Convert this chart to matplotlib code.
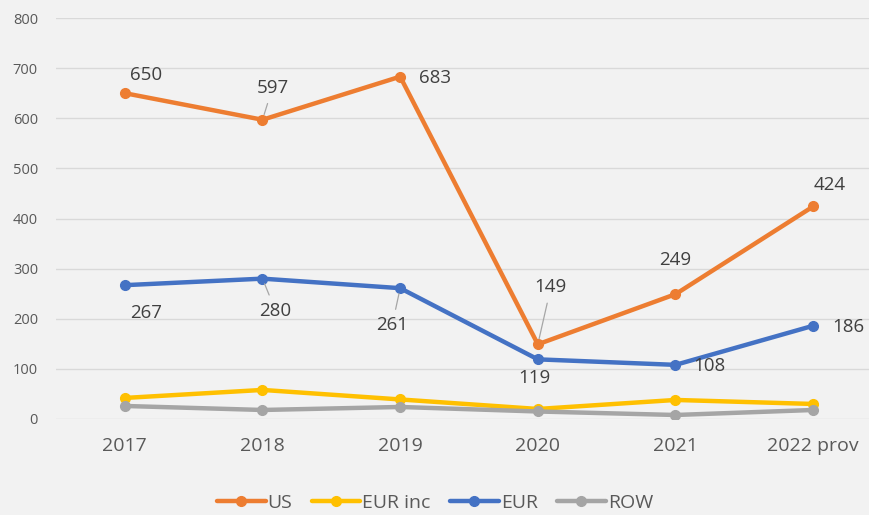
import matplotlib.pyplot as plt

# categories and series
years = ['2017', '2018', '2019', '2020', '2021', '2022 prov']
us = [650, 597, 683, 149, 249, 424]
eur_inc = [42, 58, 39, 20, 38, 30]
eur = [267, 280, 261, 119, 108, 186]
row = [26, 18, 24, 15, 8, 18]

bg = '#F2F2F2'
plt.rcParams['font.family'] = ['Open Sans', 'DejaVu Sans']

fig = plt.figure(figsize=(8.7, 5.15), dpi=100, facecolor=bg)
ax = fig.add_axes([56 / 870, 96 / 515, 826 / 870, 401 / 515], facecolor=bg)

x = list(range(len(years)))
series = [
    ('US', us, '#ED7D31'),
    ('EUR inc', eur_inc, '#FFC000'),
    ('EUR', eur, '#4472C4'),
    ('ROW', row, '#A5A5A5'),
]
for name, vals, col in series:
    ax.plot(x, vals, color=col, lw=3.2, marker='o', ms=7, label=name,
            solid_capstyle='round', zorder=3)

# data labels (offsets in pixels), leader line flag
us_off = [(21, 18, False), (10, 32, True), (35, -1, False),
          (13, 57, True), (0, 34, False), (17, 21, False)]
eur_off = [(21, -28, False), (13, -32, True), (-8, -37, True),
           (-3, -19, False), (34, -1, False), (35, -1, False)]

for vals, offs in [(us, us_off), (eur, eur_off)]:
    for i, (v, (dx, dy, lead)) in enumerate(zip(vals, offs)):
        ap = dict(arrowstyle='-', color='#A6A6A6', lw=0.9, shrinkA=3, shrinkB=4) if lead else None
        ax.annotate(str(v), (i, v), xytext=(dx, dy), textcoords='offset pixels',
                    ha='center', va='center', fontsize=13.5, color='#404040',
                    arrowprops=ap, zorder=4)

ax.set_xlim(-0.5, 5.5)
ax.set_ylim(0, 800)
ax.set_yticks(range(0, 801, 100))
ax.set_xticks(x)
ax.set_xticklabels(years, fontsize=14, color='#595959')
ax.tick_params(axis='y', labelsize=10.5, labelcolor='#595959', length=0, pad=13)
ax.tick_params(axis='x', length=0, pad=13)
ax.grid(axis='y', color='#D9D9D9', lw=1)
ax.set_axisbelow(True)
for s in ax.spines.values():
    s.set_visible(False)

fig.legend(loc='center', bbox_to_anchor=(0.5, 12 / 515), ncol=4, frameon=False,
           fontsize=14, handlelength=2.5, columnspacing=1.0, handletextpad=0.1,
           labelcolor='#595959')

fig.savefig('out.png', dpi=100, facecolor=bg)
